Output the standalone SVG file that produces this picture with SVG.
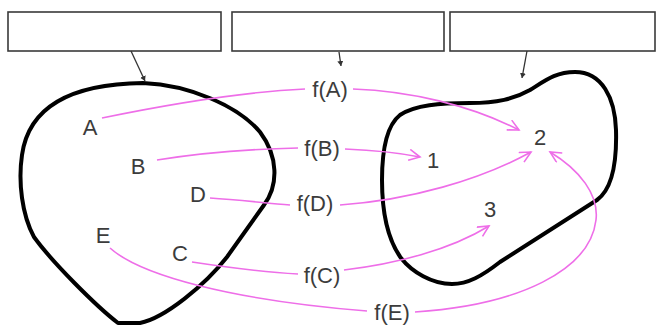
<svg xmlns="http://www.w3.org/2000/svg" width="657" height="327" viewBox="0 0 657 327">
<style>
.box{fill:#fff;stroke:#3a3a3a;stroke-width:1.6}
.blob{fill:none;stroke:#000;stroke-width:4;stroke-linejoin:round}
.ptr{fill:none;stroke:#333;stroke-width:1.3}
.map{fill:none;stroke:#ee6ee8;stroke-width:1.6}
text{font-family:"Liberation Sans",Arial,sans-serif;font-size:22px;fill:#3c3c3c;text-anchor:middle}
</style>
<defs>
<marker id="v" markerUnits="userSpaceOnUse" markerWidth="16" markerHeight="16" refX="12" refY="6" orient="auto">
<path d="M1,0.5 L12,6 L1,11.5" fill="none" stroke="#ee6ee8" stroke-width="1.6"/>
</marker>
<marker id="p" markerUnits="userSpaceOnUse" markerWidth="8" markerHeight="8" refX="5" refY="3" orient="auto">
<path d="M0,0 L5,3 L0,6 Z" fill="#333"/>
</marker>
</defs>
<rect width="657" height="327" fill="#fff"/>
<g id="box1"><rect class="box" x="8" y="12" width="213" height="39"/></g>
<g id="box2"><rect class="box" x="232" y="12" width="212" height="39"/></g>
<g id="box3"><rect class="box" x="450" y="12" width="205" height="39"/></g>
<g id="setX">
<path class="blob" d="M143,83 C190,85 238,106 260,132 C278,156 279,185 264,205 L227,257 C205,285 165,318 140,323 L118,323 C96,306 52,262 34,237 C22,215 18,182 22,155 C28,112 62,84 143,83 Z"/>
</g>
<g id="setY">
<path class="blob" d="M530,90 C546,80 556,72 575,72 C602,72 615,98 616,130 C617,165 611,190 597,200 L500,262 C482,276 468,284 452,284 C432,284 412,272 401,258 C388,240 382,215 382,180 C382,150 386,126 400,115 C415,105 440,103 470,103 C497,103 514,99 530,90 Z"/>
</g>
<g id="connectors">
<line class="ptr" x1="131" y1="51" x2="145" y2="81" marker-end="url(#p)"/>
<line class="ptr" x1="339" y1="52" x2="341" y2="66" marker-end="url(#p)"/>
<line class="ptr" x1="527" y1="51" x2="522" y2="78" marker-end="url(#p)"/>
<path class="map" d="M102,118 C170,104 240,92 305,89"/>
<path class="map" d="M353,89 C410,91 470,105 519,130" marker-end="url(#v)"/>
<path class="map" d="M157,160 C200,153 250,149 298,148"/>
<path class="map" d="M345,149 C370,150 395,152 420,157" marker-end="url(#v)"/>
<path class="map" d="M210,198 C240,200 265,203 290,205"/>
<path class="map" d="M340,205 C410,200 480,180 531,152" marker-end="url(#v)"/>
<path class="map" d="M192,262 C225,267 262,272 298,274"/>
<path class="map" d="M344,270 C395,264 450,250 489,226" marker-end="url(#v)"/>
<path class="map" d="M110,248 C140,275 230,300 367,311"/>
<path class="map" d="M415,312 C520,305 590,270 596,220 C599,195 580,170 550,152" marker-end="url(#v)"/>
</g>
<g id="labels">
<text x="90" y="135">A</text>
<text x="138" y="174">B</text>
<text x="198" y="202">D</text>
<text x="103" y="243">E</text>
<text x="180" y="261">C</text>
<text x="330" y="97">f(A)</text>
<text x="322" y="156">f(B)</text>
<text x="315" y="211">f(D)</text>
<text x="322" y="283">f(C)</text>
<text x="392" y="320">f(E)</text>
<text x="433" y="168">1</text>
<text x="540" y="145">2</text>
<text x="490" y="217">3</text>
</g>
</svg>
